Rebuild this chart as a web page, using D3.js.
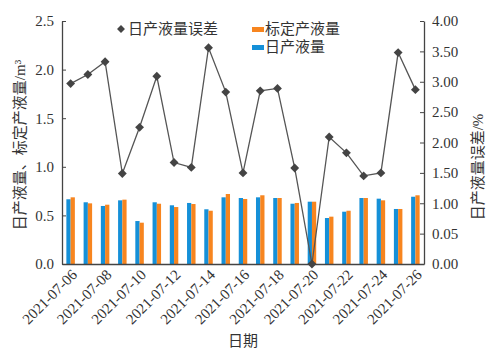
<!DOCTYPE html>
<html>
<head>
<meta charset="utf-8">
<script src="https://cdn.jsdelivr.net/npm/d3@7"></script>
<style>
  body { margin: 0; background: #fff; }
</style>
</head>
<body>
<svg id="chart" width="498" height="354"></svg>
<script>
const dates = ['2021-07-06','2021-07-07','2021-07-08','2021-07-09','2021-07-10','2021-07-11','2021-07-12',
  '2021-07-13','2021-07-14','2021-07-15','2021-07-16','2021-07-17','2021-07-18','2021-07-19',
  '2021-07-20','2021-07-21','2021-07-22','2021-07-23','2021-07-24','2021-07-25','2021-07-26'];
const dailyOutput = [0.666, 0.635, 0.597, 0.655, 0.442, 0.635, 0.604, 0.628, 0.563, 0.686, 0.679,
  0.686, 0.679, 0.620, 0.641, 0.473, 0.538, 0.679, 0.672, 0.566, 0.692];
const calibOutput = [0.686, 0.624, 0.610, 0.662, 0.425, 0.620, 0.586, 0.617, 0.548, 0.720, 0.669,
  0.707, 0.679, 0.628, 0.641, 0.487, 0.548, 0.679, 0.655, 0.566, 0.707];
const errorPct = [2.97, 3.12, 3.33, 1.49, 2.25, 3.09, 1.67, 1.59, 3.56, 2.83, 1.50,
  2.85, 2.89, 1.58, 0.00, 2.09, 1.83, 1.45, 1.50, 3.48, 2.87];
const leftTicks = [0, 0.5, 1.0, 1.5, 2.0, 2.5];
const rightTicks = [0, 0.5, 1, 1.5, 2, 2.5, 3, 3.5, 4];
const rightTickLabels = ['0.00','0.05','1.00','1.50','2.00','2.50','3.00','3.50','4.00'];

const FONT = '"Liberation Serif", "Noto Sans CJK SC", serif';
const blue = '#1590d8', orange = '#f7851f', lineColor = '#555';
const svg = d3.select('#chart');
const m = {left: 62, right: 424, top: 21, bottom: 264};

const x = d3.scaleBand().domain(dates).range([m.left, m.right]);
const sub = d3.scaleBand().domain(['daily','calib']).range([0, 8.5]);
const yL = d3.scaleLinear().domain([0, 2.5]).range([m.bottom, m.top]);
const yR = d3.scaleLinear().domain([0, 4]).range([m.bottom, m.top]);

// bars
const g = svg.append('g');
dates.forEach((d, i) => {
  const cx = x(d) + x.bandwidth() / 2 - 4.25;
  g.append('rect').attr('x', cx + sub('daily')).attr('width', sub.bandwidth())
    .attr('y', yL(dailyOutput[i])).attr('height', yL(0) - yL(dailyOutput[i])).attr('fill', blue);
  g.append('rect').attr('x', cx + sub('calib')).attr('width', sub.bandwidth())
    .attr('y', yL(calibOutput[i])).attr('height', yL(0) - yL(calibOutput[i])).attr('fill', orange);
});

// axes
const axL = svg.append('g').attr('transform', `translate(${m.left},0)`)
  .call(d3.axisLeft(yL).tickValues(leftTicks).tickFormat(d3.format('.1f')).tickSizeInner(-4).tickSizeOuter(0).tickPadding(8));
const axR = svg.append('g').attr('transform', `translate(${m.right},0)`)
  .call(d3.axisRight(yR).tickValues(rightTicks).tickFormat((d, i) => rightTickLabels[i]).tickSizeInner(-4).tickSizeOuter(0).tickPadding(8));
const axB = svg.append('g').attr('transform', `translate(0,${m.bottom})`)
  .call(d3.axisBottom(x).tickValues(dates.filter((d, i) => i % 2 === 0)).tickSize(0).tickPadding(6));
[axL, axR, axB].forEach(a => {
  a.attr('font-family', FONT).attr('font-size', 15);
  a.selectAll('text').attr('fill', '#333');
  a.select('.domain').attr('stroke', '#444').attr('stroke-width', 1.3);
  a.selectAll('.tick line').attr('stroke', '#444');
});
axB.selectAll('text').attr('text-anchor', 'end')
  .attr('transform', 'rotate(-45)').attr('dx', '-0.2em').attr('dy', '0.5em');

// error line
const line = d3.line().x((d, i) => x(dates[i]) + x.bandwidth() / 2).y(d => yR(d));
svg.append('path').datum(errorPct).attr('d', line).attr('fill', 'none')
  .attr('stroke', lineColor).attr('stroke-width', 1.3);
const diamond = d3.symbol().type(d3.symbolDiamond2).size(50);
svg.selectAll('.pt').data(errorPct).join('path').attr('class', 'pt')
  .attr('d', diamond)
  .attr('transform', (d, i) => `translate(${x(dates[i]) + x.bandwidth() / 2},${yR(d)})`)
  .attr('fill', '#444');

// legend and titles
const lab = svg.append('g').attr('font-family', FONT).attr('font-size', 15).attr('fill', '#333');
svg.append('path').attr('d', d3.symbol().type(d3.symbolDiamond2).size(40))
  .attr('transform', 'translate(121,29)').attr('fill', '#444');
lab.append('text').attr('x', 128).attr('y', 34).text('日产液量误差');
svg.append('rect').attr('x', 252).attr('y', 27).attr('width', 12).attr('height', 5).attr('fill', orange);
lab.append('text').attr('x', 265).attr('y', 34).text('标定产液量');
svg.append('rect').attr('x', 252).attr('y', 45).attr('width', 12).attr('height', 5).attr('fill', blue);
lab.append('text').attr('x', 265).attr('y', 52).text('日产液量');

lab.append('text').attr('transform', 'translate(25,145) rotate(-90)').attr('text-anchor', 'middle')
  .text('日产液量、标定产液量/m³');
lab.append('text').attr('transform', 'translate(483,167) rotate(-90)').attr('text-anchor', 'middle')
  .text('日产液量误差/%');
lab.append('text').attr('x', 243).attr('y', 346).attr('text-anchor', 'middle').text('日期');
</script>
</body>
</html>
